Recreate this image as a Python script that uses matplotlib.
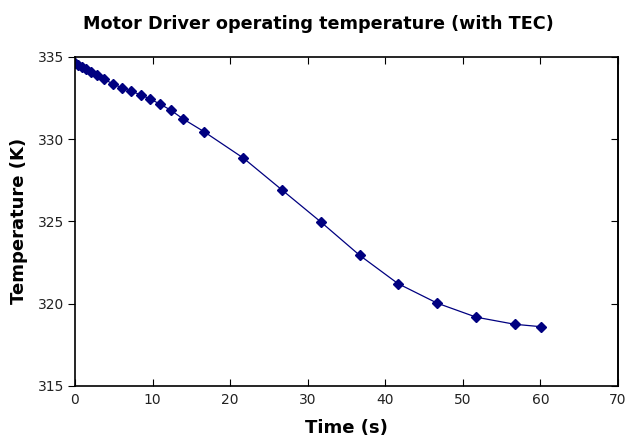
import matplotlib
matplotlib.use("Agg")
import matplotlib.pyplot as plt

time_s = [0.0, 0.43, 0.86, 1.42, 2.02, 2.80, 3.78, 4.86, 6.06, 7.26, 8.51, 9.71,
          10.96, 12.34, 13.96, 16.64, 21.70, 26.69, 31.71, 36.70, 41.64, 46.71,
          51.73, 56.68, 60.11]
temperature_k = [334.64, 334.50, 334.36, 334.23, 334.05, 333.89, 333.63, 333.36,
                 333.12, 332.90, 332.69, 332.43, 332.13, 331.76, 331.22, 330.45,
                 328.85, 326.91, 324.96, 322.94, 321.22, 320.03, 319.18, 318.75,
                 318.60]

fig = plt.figure(figsize=(6.27, 4.36), dpi=100)
ax = fig.add_axes([0.1196, 0.1147, 0.866, 0.755])

ax.plot(time_s, temperature_k, color="#000080", linewidth=0.9,
        marker="D", markersize=5.5, markeredgecolor="#000080")

ax.set_xlim(0, 70)
ax.set_ylim(315, 335)
ax.set_xticks(range(0, 71, 10))
ax.set_yticks(range(315, 336, 5))
ax.tick_params(axis="x", direction="in", top=True, length=5, labelsize=10,
               pad=5, labelcolor="#222222")
ax.tick_params(axis="y", direction="out", right=False, length=5, labelsize=10,
               pad=3, labelcolor="#222222")
right = ax.secondary_yaxis("right")
right.set_yticks(range(315, 336, 5))
right.tick_params(direction="in", length=5, labelright=False)
for spine in list(ax.spines.values()) + list(right.spines.values()):
    spine.set_linewidth(1.2)

ax.set_xlabel("Time (s)", fontsize=13, fontweight="bold", labelpad=9)
ax.set_ylabel("Temperature (K)", fontsize=13, fontweight="bold", labelpad=6.5)
fig.suptitle("Motor Driver operating temperature (with TEC)", fontsize=12.7,
             fontweight="bold", x=0.507, y=0.965)

fig.savefig("out.png", dpi=100)
